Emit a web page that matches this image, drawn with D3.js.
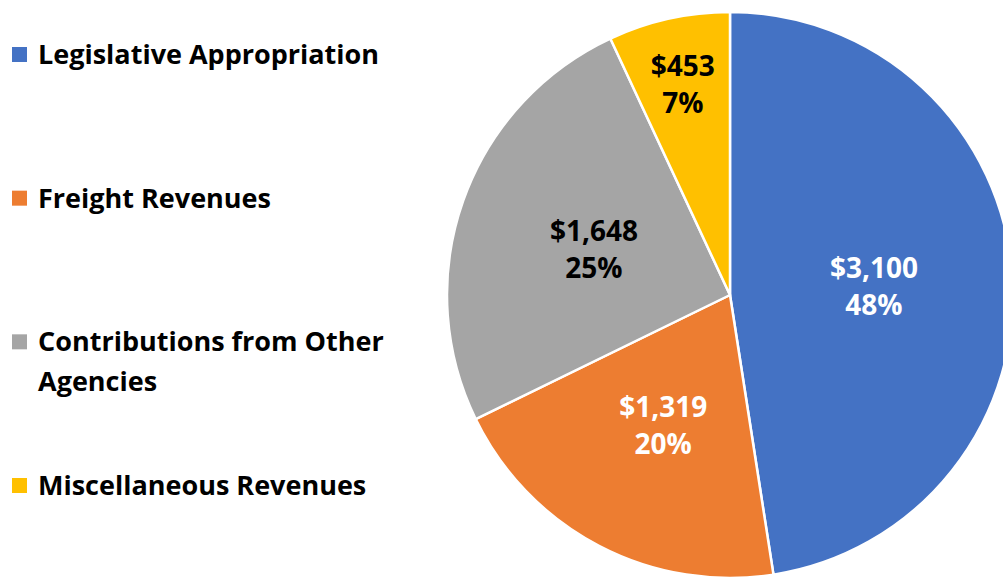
<!DOCTYPE html>
<html>
<head>
<meta charset="utf-8">
<script src="https://cdn.jsdelivr.net/npm/d3@7"></script>
<style>
  html, body { margin: 0; padding: 0; background: #fff; overflow: hidden; }
  text { font-family: "Open Sans", "Liberation Sans", sans-serif; font-weight: bold; }
</style>
</head>
<body>
<svg id="chart" width="1003" height="578"></svg>
<script>
'use strict'

const categories = ['Legislative Appropriation', 'Freight Revenues', 'Contributions from Other Agencies', 'Miscellaneous Revenues']
const legendLines = [['Legislative Appropriation'], ['Freight Revenues'], ['Contributions from Other', 'Agencies'], ['Miscellaneous Revenues']]
const amounts = [3100, 1319, 1648, 453]
const colors = ['#4472C4', '#ED7D31', '#A5A5A5', '#FFC000']
const labelColors = ['#fff', '#fff', '#000', '#000']

function draw(){
	let svg = d3.select('#chart')
	let cx = 730, cy = 295, radius = 283

	let total = d3.sum(amounts)
	let pie = d3.pie().sort(null).value(d => d)
	let arcs = pie(amounts)
	let arc = d3.arc().innerRadius(0).outerRadius(radius)

	let g = svg.append('g').attr('transform', `translate(${cx},${cy})`)

	g.selectAll('path')
		.data(arcs)
		.join('path')
		.attr('d', arc)
		.attr('fill', (d, i) => colors[i])
		.attr('stroke', '#fff')
		.attr('stroke-width', 2.5)
		.attr('stroke-linejoin', 'round')

	// small slices get pushed out toward the rim, like excel's best fit
	let fmt = d3.format(',')
	let labels = g.selectAll('g.lbl')
		.data(arcs)
		.join('g')
		.attr('class', 'lbl')
		.attr('transform', d => {
			let r = (d.endAngle - d.startAngle) < 0.6 ? radius * 0.77 : radius * 0.51
			let c = d3.arc().innerRadius(r).outerRadius(r).centroid(d)
			return `translate(${c[0]},${c[1] + 2})`
		})

	labels.append('text')
		.attr('text-anchor', 'middle')
		.attr('y', -8)
		.attr('font-size', 28)
		.attr('fill', (d, i) => labelColors[i])
		.text(d => '$' + fmt(d.data))

	labels.append('text')
		.attr('text-anchor', 'middle')
		.attr('y', 29)
		.attr('font-size', 28)
		.attr('fill', (d, i) => labelColors[i])
		.text(d => Math.round(d.data / total * 100) + '%')

	// legend
	let ly = d3.scalePoint().domain(categories).range([54, 485])
	let leg = svg.append('g')
		.selectAll('g')
		.data(categories)
		.join('g')
		.attr('transform', d => `translate(12,${ly(d)})`)

	leg.append('rect')
		.attr('x', 0)
		.attr('y', -7)
		.attr('width', 15)
		.attr('height', 15)
		.attr('fill', (d, i) => colors[i])

	leg.each(function(d, i){
		let t = d3.select(this).append('text')
			.attr('x', 26)
			.attr('y', 10)
			.attr('font-size', 27)
			.attr('fill', '#000')
		legendLines[i].forEach((line, j) => {
			t.append('tspan').attr('x', 26).attr('dy', j == 0 ? 0 : 40).text(line)
		})
	})
}

draw()
</script>
</body>
</html>
